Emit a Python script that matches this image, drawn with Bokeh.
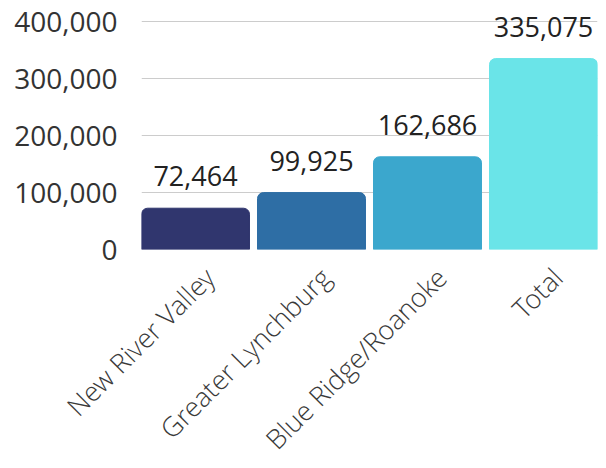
from bokeh.plotting import figure
from bokeh.models import (ColumnDataSource, NumeralTickFormatter, FixedTicker,
                          Range1d, LinearAxis)
from bokeh.core.properties import value
from bokeh.embed import file_html
from bokeh.resources import INLINE
import math

categories = ["New River Valley", "Greater Lynchburg", "Blue Ridge/Roanoke", "Total"]
values = [72464, 99925, 162686, 335075]
colors = ["#30366e", "#2e6ea5", "#3ba7cd", "#6ae4e8"]
labels = [f"{v:,}" for v in values]
y_ticks = [0, 100000, 200000, 300000, 400000]

xpos = [i + 0.5 for i in range(len(categories))]
src = ColumnDataSource(dict(x=xpos, cat=categories, val=values, color=colors, label=labels))

pad = 0.0345
n = len(categories)

p = figure(x_range=Range1d(pad, n - pad), y_range=Range1d(0, 430000), width=600, height=460,
           frame_width=456, frame_height=245,
           min_border_left=141, min_border_right=3, min_border_top=4, min_border_bottom=211,
           x_axis_location=None,
           output_backend="svg", toolbar_location=None)

p.vbar(x="x", top="val", width=0.931, color="color", source=src,
       border_radius=(6, 6, 0, 0))

p.text(x="x", y="val", text="label", source=src, y_offset=-22,
       text_align="center", text_baseline="bottom",
       text_font=value("Open Sans"), text_font_size="27px", text_color="#222222")

p.outline_line_color = None
p.xgrid.grid_line_color = None
p.ygrid.grid_line_color = "#cccccc"
p.ygrid.ticker = FixedTicker(ticks=y_ticks)

p.yaxis.ticker = FixedTicker(ticks=y_ticks)
p.yaxis.formatter = NumeralTickFormatter(format="0,0")
p.yaxis.axis_line_color = None
p.yaxis.major_tick_line_color = None
p.yaxis.minor_tick_line_color = None
p.yaxis.major_label_text_font = "Open Sans"
p.yaxis.major_label_text_font_size = "28px"
p.yaxis.major_label_text_color = "#333333"
p.yaxis.major_label_standoff = 18

# category label axis, shifted slightly right like the reference
shift = 0.12
p.extra_x_ranges = {"lab": Range1d(start=pad - shift, end=n - pad - shift)}
xa = LinearAxis(x_range_name="lab", ticker=FixedTicker(ticks=xpos),
                major_label_overrides={t: c for t, c in zip(xpos, categories)})
xa.axis_line_color = None
xa.major_tick_line_color = None
xa.minor_tick_line_color = None
xa.major_label_orientation = math.pi / 4
xa.major_label_text_font = "'Open Sans Light', 'Open Sans'"
xa.major_label_text_font_size = "27px"
xa.major_label_text_color = "#3a3a3a"
xa.major_label_standoff = 17
p.add_layout(xa, "below")

base = LinearAxis(ticker=FixedTicker(ticks=[]))
base.axis_line_color = "#888888"
base.major_tick_line_color = None
base.minor_tick_line_color = None
base.major_label_text_font_size = "0px"
p.add_layout(base, "below")

open("out.html", "w").write(file_html(p, INLINE))
